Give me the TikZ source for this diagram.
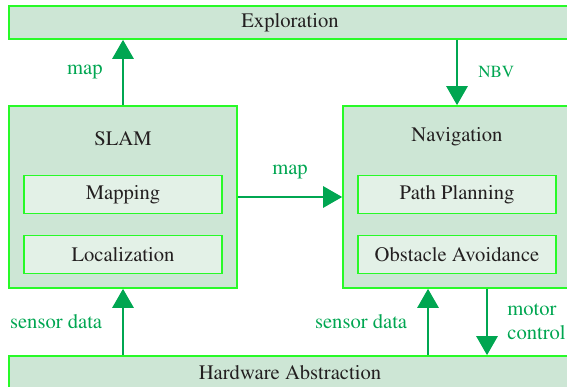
\documentclass[tikz,border=0pt]{standalone}
\usepackage[T1]{fontenc}
\usepackage{mathptmx}
\usetikzlibrary{arrows.meta}

\definecolor{boxfill}{RGB}{205,230,213}
\definecolor{subfill}{RGB}{227,241,231}
\definecolor{boxline}{RGB}{40,250,40}
\definecolor{flowgreen}{RGB}{0,166,81}
\definecolor{txt}{RGB}{35,31,32}

\begin{document}
\begin{tikzpicture}[x=1pt, y=-1pt,
    module/.style={draw=boxline, line width=1.6pt, fill=boxfill, text=txt, font=\fontsize{20.6}{24.5}\selectfont, inner sep=0pt},
    layer/.style={module, minimum width=562pt, minimum height=33pt},
    block/.style={module, minimum width=228pt, minimum height=182pt},
    part/.style={module, fill=subfill, minimum width=198pt, minimum height=38pt},
    title/.style={text=txt, font=\fontsize{20.6}{24.5}\selectfont, inner sep=0pt},
    flow/.style={draw=flowgreen, line width=2.7pt, -{Triangle[length=19pt, width=21pt]}},
    lbl/.style={text=flowgreen, font=\fontsize{20.6}{24}\selectfont, inner sep=0pt}
  ]

    \useasboundingbox (0,0) rectangle (567,387);
    \clip (0,0) rectangle (567,387);

    % Nodes
    \node[layer] (explore) at (290,22.5) {Exploration}; % top layer
    \node[layer] (hal) at (290,372.5) {Hardware Abstraction}; % bottom layer
    \node[block] (slam) at (123,197) {}; % SLAM module
    \node[title] at (123,139) {SLAM};
    \node[part] (mapping) at (123,194.5) {Mapping};
    \node[part] (local) at (123,254.5) {Localization};
    \node[block] (nav) at (457,197) {}; % navigation module
    \node[title] at (457,137) {Navigation};
    \node[part] (plan) at (457,194.5) {Path Planning};
    \node[part] (avoid) at (457,254.5) {Obstacle Avoidance};

    % Edges
    \draw[flow] (slam.north) -- node[lbl, left=19pt] {map} (explore.south -| slam.north); % map to exploration
    \draw[flow] (explore.south -| nav.north) -- node[lbl, right=20pt, font=\fontsize{17}{20}\selectfont] {NBV} (nav.north); % next best view
    \draw[flow] (slam.east) -- node[lbl, above=17pt] {map} (nav.west); % map to navigation
    \draw[flow] (hal.north -| slam.south) -- node[lbl, left=19.5pt] {sensor data} (slam.south); % sensors to SLAM
    \draw[flow] (hal.north -| 428,0) -- node[lbl, left=19.5pt] {sensor data} (nav.south -| 428,0); % sensors to navigation
    \draw[flow] (nav.south -| 487,0) -- node[lbl, right=19pt, align=left] {motor\\control} (hal.north -| 487,0); % motor commands

\end{tikzpicture}
\end{document}
